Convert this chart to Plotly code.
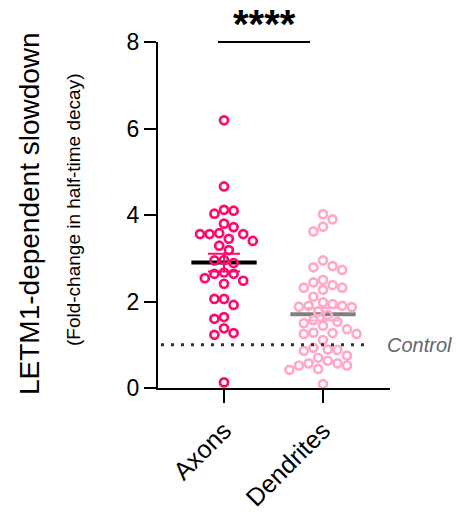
import numpy as np
import plotly.graph_objects as go

# ---- data -------------------------------------------------------------
categories = ["Axons", "Dendrites"]

axons = [6.19, 4.66, 4.03, 4.12, 4.10, 3.72, 3.80, 3.56, 3.56, 3.56, 3.58,
         3.45, 3.40, 3.29, 3.19, 2.96, 2.95, 2.89, 2.64, 2.67, 2.64, 2.48,
         2.54, 2.41, 2.06, 2.06, 1.92, 1.64, 1.60, 1.27, 1.23, 1.38, 0.13]

dendrites = [4.02, 3.90, 3.73, 3.62, 2.82, 2.95, 2.79, 2.73, 2.50, 2.44,
             2.32, 2.38, 2.32, 2.27, 2.11, 1.90, 1.90, 1.87, 1.98, 1.94,
             1.88, 1.69, 1.77, 1.50, 1.57, 1.53, 1.44, 1.36, 1.25, 1.25,
             1.27, 1.28, 1.11, 0.86, 0.93, 0.88, 0.89, 0.63, 0.52, 0.57,
             0.70, 0.57, 0.44, 0.52, 0.42, 0.75, 0.09]

y_ticks = [0, 2, 4, 6, 8]
control_level = 1.0
control_label = "Control"
significance = "****"
y_title = "LETM1-dependent slowdown"
y_subtitle = "(Fold-change in half-time decay)"

# ---- layout geometry ----------------------------------------------------
W, H = 456, 518
L, R, T, B = 158, 66, 42, 130
x_range = [-0.667, 1.677]
y_range = [0, 8]
plot_w = W - L - R
plot_h = H - T - B
px_per_x = plot_w / (x_range[1] - x_range[0])
px_per_y = plot_h / (y_range[1] - y_range[0])

FONT = "Arial, Liberation Sans, sans-serif"
colors = ["#ff0a6c", "#ffa8ca"]
mean_colors = ["#000000", "#808080"]


def swarm_offsets(values, min_dist=9.6, step=4.8):
    """Greedy beeswarm on a half-step grid, in pixel space."""
    ys = np.asarray(values, dtype=float) * px_per_y
    placed = []
    offsets = np.zeros(len(ys))
    flip = 1
    for i in np.argsort(-ys, kind="stable"):
        chosen = 0.0
        for j in range(0, 60):
            found = False
            for s in ((flip, -flip) if j else (1,)):
                c = s * j * step
                if all((c - px) ** 2 + (ys[i] - py) ** 2 >= min_dist ** 2
                       for px, py in placed):
                    chosen = c
                    found = True
                    break
            if found:
                break
        if chosen != 0:
            flip = -flip
        placed.append((chosen, ys[i]))
        offsets[i] = chosen
    return offsets / px_per_x


def px_to_paper_x(px):
    return (px - L) / plot_w


def px_to_paper_y(py):
    return (H - B - py) / plot_h


fig = go.Figure()
groups = [axons, dendrites]

for gi, vals in enumerate(groups):
    v = np.asarray(vals)
    mean = v.mean()
    sem = v.std(ddof=1) / np.sqrt(len(v))
    # mean bar
    fig.add_trace(go.Scatter(
        x=[gi - 0.33, gi + 0.33], y=[mean, mean], mode="lines",
        line=dict(color=mean_colors[gi], width=4), hoverinfo="skip",
        showlegend=False, cliponaxis=False))
    # SEM whiskers
    fig.add_trace(go.Scatter(
        x=[gi], y=[mean], mode="markers", marker=dict(size=0.1, opacity=0),
        error_y=dict(type="data", array=[sem], color=colors[gi],
                     thickness=2, width=16),
        hoverinfo="skip", showlegend=False, cliponaxis=False))
    # individual points
    fig.add_trace(go.Scatter(
        x=gi + swarm_offsets(v), y=v, mode="markers",
        marker=dict(symbol="circle-open", size=8, color=colors[gi],
                    line=dict(width=2.7, color=colors[gi])),
        name=categories[gi], showlegend=False, cliponaxis=False))

# dotted control reference
fig.add_shape(type="line", xref="paper", yref="y",
              x0=px_to_paper_x(161), x1=px_to_paper_x(368),
              y0=control_level, y1=control_level,
              line=dict(color="#333333", width=3, dash="3px,7px"))
fig.add_annotation(text=control_label, xref="paper", yref="y",
                   x=px_to_paper_x(385), y=control_level, xanchor="left",
                   yanchor="middle", showarrow=False,
                   font=dict(family=FONT, size=20, color="#666666",
                             style="italic"))

# significance bracket
fig.add_shape(type="line", xref="paper", yref="paper",
              x0=px_to_paper_x(218), x1=px_to_paper_x(310), y0=1.0, y1=1.0,
              line=dict(color="black", width=2))
fig.add_annotation(text="<b>" + significance + "</b>", xref="paper",
                   yref="paper", x=px_to_paper_x(264), y=px_to_paper_y(0),
                   xanchor="center", yanchor="top", showarrow=False,
                   font=dict(family=FONT, size=40, color="black"))

# y-axis titles
fig.add_annotation(text=y_title, xref="paper", yref="paper",
                   x=px_to_paper_x(29), y=px_to_paper_y(214),
                   textangle=-90, showarrow=False, xanchor="center",
                   yanchor="middle",
                   font=dict(family=FONT, size=28, color="black"))
fig.add_annotation(text=y_subtitle, xref="paper", yref="paper",
                   x=px_to_paper_x(73), y=px_to_paper_y(210),
                   textangle=-90, showarrow=False, xanchor="center",
                   yanchor="middle",
                   font=dict(family=FONT, size=19, color="black"))

fig.update_layout(
    width=W, height=H, margin=dict(l=L, r=R, t=T, b=B, autoexpand=False),
    paper_bgcolor="white", plot_bgcolor="white",
    font=dict(family=FONT, color="black"),
    xaxis=dict(range=x_range, tickvals=[0, 1], ticktext=categories,
               tickangle=-45, showline=True, linecolor="black", linewidth=2,
               ticks="outside", ticklen=13, tickwidth=2, tickcolor="black",
               ticklabelstandoff=3, automargin=False,
               showgrid=False, zeroline=False,
               tickfont=dict(family=FONT, size=25, color="black")),
    yaxis=dict(range=y_range, tickvals=y_ticks, showline=True,
               linecolor="black", linewidth=2, ticks="outside", ticklen=12,
               tickwidth=2, tickcolor="black", showgrid=False,
               zeroline=False, automargin=False,
               tickfont=dict(family=FONT, size=23, color="black")),
)

fig.write_html("out.html")
